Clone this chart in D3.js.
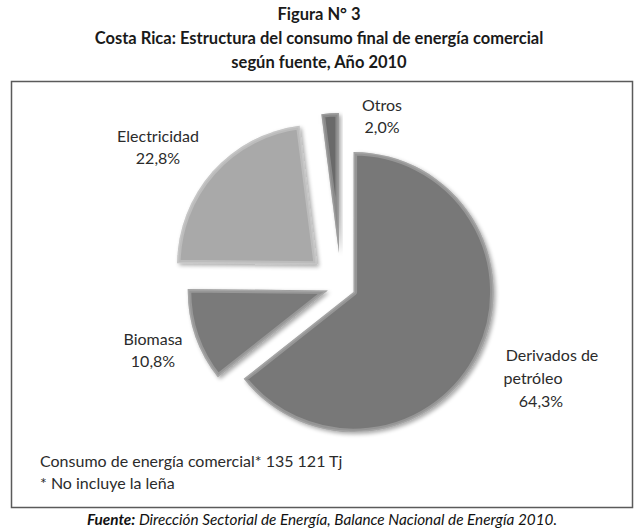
<!DOCTYPE html>
<html>
<head>
<meta charset="utf-8">
<script src="https://cdn.jsdelivr.net/npm/d3@7"></script>
<style>
  html, body { margin: 0; padding: 0; background: #fff; }
  svg { display: block; }
  text { font-family: Lato, "Open Sans", sans-serif; fill: #2b2b2b; }
</style>
</head>
<body>
<svg id="chart" width="636" height="529"></svg>
<script>
// Energy consumption by source, Costa Rica 2010 (percent of total)
const categories = ["Derivados de petróleo", "Biomasa", "Electricidad", "Otros"];
const shares = [64.3, 10.8, 22.8, 2.0];
const shareLabels = ["64,3%", "10,8%", "22,8%", "2,0%"];
const labelLines = [["Derivados de", "petróleo"], ["Biomasa"], ["Electricidad"], ["Otros"]];

const titleLines = [
  "Figura N° 3",
  "Costa Rica: Estructura del consumo final de energía comercial",
  "según fuente, Año 2010"
];
const noteLines = ["Consumo de energía comercial* 135 121 Tj", "* No incluye la leña"];
const sourceBold = "Fuente:";
const sourceText = " Dirección Sectorial de Energía, Balance Nacional de Energía 2010.";

// slice appearance
const sliceColors = ["#787878", "#7a7a7a", "#a9a9a9", "#6b6b6b"];
const explode = [14, 14, 32, 33];

const svg = d3.select("#chart");

// drop shadow filter
const defs = svg.append("defs");
const sh = defs.append("filter").attr("id", "shadow")
  .attr("x", "-20%").attr("y", "-20%").attr("width", "140%").attr("height", "140%");
sh.append("feGaussianBlur").attr("in", "SourceAlpha").attr("stdDeviation", 2).attr("result", "b");
sh.append("feOffset").attr("in", "b").attr("dx", 1.5).attr("dy", 2).attr("result", "o");
sh.append("feComponentTransfer").attr("in", "o").attr("result", "s")
  .append("feFuncA").attr("type", "linear").attr("slope", 0.35);
const m = sh.append("feMerge");
m.append("feMergeNode").attr("in", "s");
m.append("feMergeNode").attr("in", "SourceGraphic");

// title
svg.append("g").selectAll("text").data(titleLines).join("text")
  .attr("x", 319).attr("y", (d, i) => 20 + i * 24)
  .attr("text-anchor", "middle")
  .style("font-weight", "bold").style("font-size", "16.5px")
  .style("fill", "#1a1a1a")
  .text(d => d);

// frame
svg.append("rect")
  .attr("x", 11.5).attr("y", 81.5).attr("width", 621).attr("height", 426)
  .attr("fill", "none").attr("stroke", "#5a5a5a").attr("stroke-width", 1.5);

// pie
const cx = 341, cy = 286, R = 140;
const pie = d3.pie().sort(null).value(d => d)(shares);
const arc = d3.arc().innerRadius(0).outerRadius(R);

const slices = svg.append("g").attr("transform", `translate(${cx},${cy})`)
  .selectAll("g").data(pie).join("g")
  .attr("transform", (d, i) => {
    const a = (d.startAngle + d.endAngle) / 2;
    return `translate(${Math.sin(a) * explode[i]},${-Math.cos(a) * explode[i]})`;
  });

slices.each(function (d, i) {
  const g = d3.select(this);
  const id = "clip" + i;
  defs.append("clipPath").attr("id", id).append("path").attr("d", arc(d));
  g.append("path").attr("d", arc(d)).attr("fill", sliceColors[i]).attr("filter", "url(#shadow)");
  // soft bevel: light rim inside the slice edge
  const rim = g.append("g").attr("clip-path", `url(#${id})`);
  rim.append("path").attr("d", arc(d)).attr("fill", "none")
    .attr("stroke", "#ffffff").attr("stroke-opacity", 0.22).attr("stroke-width", 7)
    .attr("stroke-linejoin", "round");
  rim.append("path").attr("d", arc(d)).attr("fill", "none")
    .attr("stroke", "#ffffff").attr("stroke-opacity", 0.15).attr("stroke-width", 3);
});

// data labels
const labelPos = [
  [[552, 361], [533, 384], [541, 407]],
  [[153, 345], [153, 367]],
  [[158, 142], [158, 164]],
  [[382, 111], [382, 133]]
];
const labels = svg.append("g");
categories.forEach((c, i) => {
  const lines = labelLines[i].concat([shareLabels[i]]);
  lines.forEach((t, j) => {
    labels.append("text")
      .attr("x", labelPos[i][j][0]).attr("y", labelPos[i][j][1])
      .attr("text-anchor", "middle").style("font-size", "16px")
      .text(t);
  });
});

// notes inside frame
svg.append("g").selectAll("text").data(noteLines).join("text")
  .attr("x", 40).attr("y", (d, i) => 467 + i * 22)
  .style("font-size", "16px")
  .text(d => d);

// source line
const src = svg.append("text").attr("x", 322).attr("y", 525)
  .attr("text-anchor", "middle").style("font-size", "15.3px").style("font-style", "italic")
  .style("fill", "#111");
src.append("tspan").style("font-weight", "bold").text(sourceBold);
src.append("tspan").text(sourceText);
</script>
</body>
</html>
